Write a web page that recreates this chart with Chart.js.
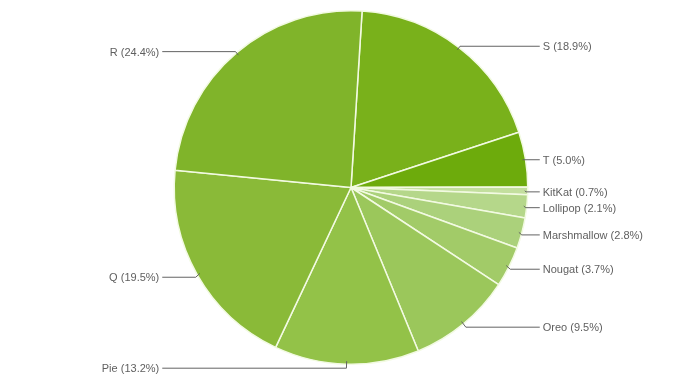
<!DOCTYPE html>
<html>
<head>
<meta charset="utf-8">
<script src="https://cdn.jsdelivr.net/npm/chart.js@4.4.1/dist/chart.umd.min.js"></script>
<style>
    html, body { margin: 0; padding: 0; background: #fff; }
    #wrap { width: 700px; height: 375px; }
</style>
</head>
<body>
<div id="wrap"><canvas id="container"></canvas></div>
<script>
"use strict";

// slices in clockwise order, starting just right of 12 o'clock
const versions = ["S", "T", "KitKat", "Lollipop", "Marshmallow", "Nougat", "Oreo", "Pie", "Q", "R"];
const shares = [18.9, 5.0, 0.7, 2.1, 2.8, 3.7, 9.5, 13.2, 19.5, 24.4];
const sliceColors = ["#79b11b", "#6dab0c", "#c3df9e", "#b5d78a", "#abd17b",
    "#a2cb68", "#9bc75b", "#93c248", "#8aba38", "#80b42a"];

const textColor = "#5f5f5f",
    lineColor = "#636363";

// outside labels with leader lines
const outLabels = {
    id: "outLabels",
    afterDatasetsDraw(chart) {
        const ctx = chart.ctx;
        const arcs = chart.getDatasetMeta(0).data;
        var items = [];

        arcs.forEach((arc, i) => {
            const mid = (arc.startAngle + arc.endAngle) / 2;
            const r = arc.outerRadius;
            const sx = arc.x + Math.cos(mid) * (r - 3),
                sy = arc.y + Math.sin(mid) * (r - 3);
            const ey = arc.y + Math.sin(mid) * r;
            const right = Math.cos(mid) > 0.02;
            items.push({
                i: i, mid: mid, sx: sx, sy: sy,
                y: ey + 1 + 3 * Math.sin(mid),
                right: right, cx: arc.x, r: r
            });
        });

        // keep labels apart on each side
        [true, false].forEach(side => {
            var list = items.filter(it => it.right === side).sort((a, b) => a.y - b.y);
            for (var k = 1; k < list.length; k++) {
                if (list[k].y - list[k - 1].y < 12) list[k].y = list[k - 1].y + 12;
            }
        });

        ctx.save();
        ctx.font = "11px Arial, 'Liberation Sans', sans-serif";
        ctx.textBaseline = "middle";
        items.forEach(it => {
            const dir = it.right ? 1 : -1;
            const kx = it.sx + Math.cos(it.mid) * Math.abs(it.y - it.sy) * 1.2;
            const tx = it.cx + dir * (it.r + 15);
            ctx.strokeStyle = lineColor;
            ctx.lineWidth = 1;
            ctx.beginPath();
            ctx.moveTo(it.sx, it.sy);
            ctx.lineTo(kx, it.y);
            ctx.lineTo(tx - dir * 3, it.y);
            ctx.stroke();

            ctx.fillStyle = textColor;
            ctx.textAlign = it.right ? "left" : "right";
            ctx.fillText(versions[it.i] + " (" + shares[it.i].toFixed(1) + "%)", tx, it.y + 1);
        });
        ctx.restore();
    }
};

var ctx = document.getElementById("container").getContext("2d");
var pieChart = new Chart(ctx, {
    type: "pie",
    data: {
        labels: versions,
        datasets: [{
            data: shares,
            backgroundColor: sliceColors,
            borderColor: "#f2fae2",
            borderWidth: 1.5,
            hoverOffset: 0
        }]
    },
    options: {
        responsive: true,
        maintainAspectRatio: false,
        animation: false,
        rotation: 3.6,
        layout: {
            padding: { top: 10, bottom: 10, left: 2, right: 0 }
        },
        plugins: {
            legend: { display: false },
            tooltip: { enabled: false }
        }
    },
    plugins: [outLabels]
});
</script>
</body>
</html>
